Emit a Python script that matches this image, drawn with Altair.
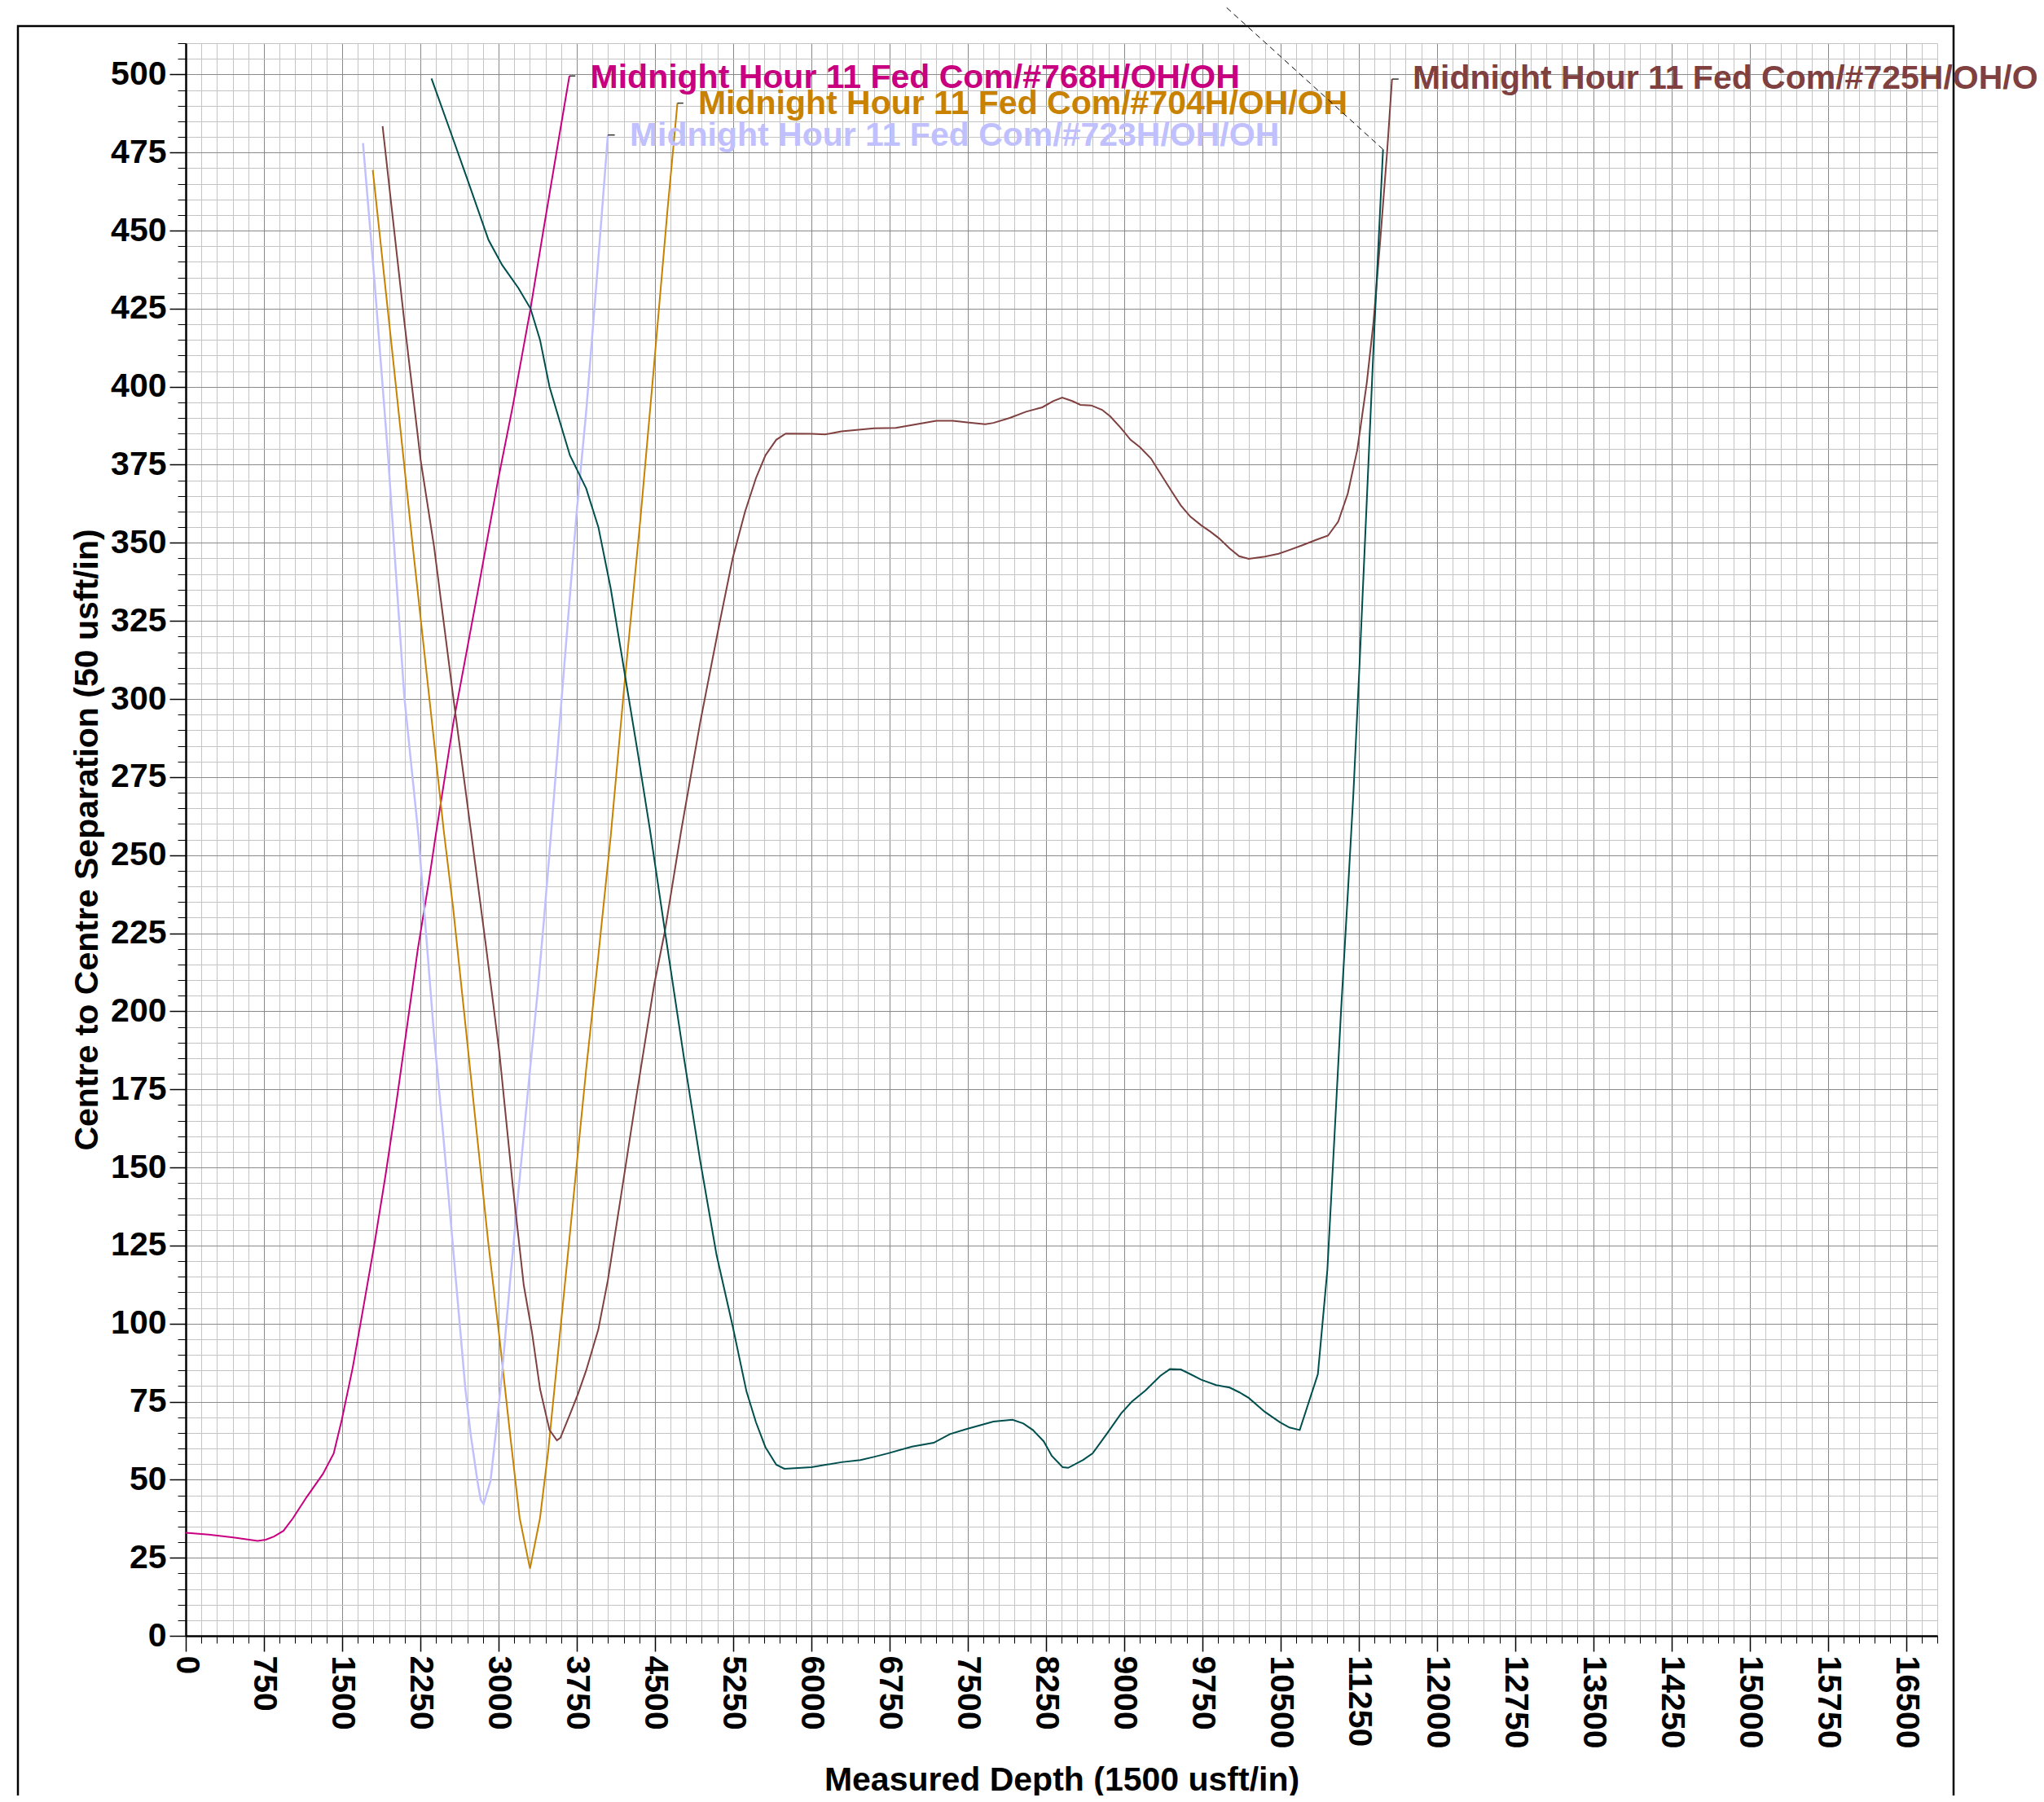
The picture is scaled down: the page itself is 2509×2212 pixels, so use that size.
import altair as alt
import pandas as pd

# ---------------- data ----------------
NAME_768 = "Midnight Hour 11 Fed Com/#768H/OH/OH"
NAME_704 = "Midnight Hour 11 Fed Com/#704H/OH/OH"
NAME_723 = "Midnight Hour 11 Fed Com/#723H/OH/OH"
NAME_725 = "Midnight Hour 11 Fed Com/#725H/OH/OH"
NAME_GRN = "Offset well (label off sheet)"

md_768 = [0, 195, 456, 690, 768, 846, 937, 1029, 1159, 1315, 1419, 1497, 1601, 1706, 1810,
          1914, 2018, 2122, 2226, 2331, 2396, 2565, 2799, 2995, 3138, 3307, 3425, 3581, 3680]
sep_768 = [33.0, 32.5, 31.5, 30.4, 30.8, 31.8, 33.6, 37.7, 44.4, 51.8, 58.4, 69.2, 85.8, 105.6, 125.5,
           147.0, 170.2, 195.0, 219.9, 241.4, 256.0, 292.0, 334.0, 370.0, 394.0, 425.0, 449.0, 480.0, 499.5]

md_723 = [1700, 1810, 1940, 2096, 2233, 2305, 2383, 2461, 2539, 2617, 2682, 2734, 2799, 2830, 2857,
          2924, 2982, 3034, 3112, 3190, 3294, 3372, 3437, 3503, 3607, 3750, 3841, 3945, 4049]
sep_723 = [478.0, 434.0, 378.0, 300.8, 256.0, 224.8, 191.7, 163.6, 133.8, 104.0, 79.1, 64.2, 49.3, 43.5, 42.2,
           49.7, 67.5, 84.1, 113.9, 142.0, 178.5, 205.0, 229.8, 256.5, 300.8, 360.0, 392.0, 435.6, 480.6]

md_704 = [1794, 1992, 2174, 2383, 2474, 2565, 2669, 2799, 2903, 3008, 3112, 3203, 3302, 3398, 3477,
          3581, 3685, 3763, 3841, 3958, 4076, 4206, 4362, 4492, 4622, 4716]
sep_704 = [469.4, 407.7, 350.0, 286.0, 258.0, 233.0, 200.0, 158.6, 125.5, 95.7, 64.2, 37.7, 21.5, 37.7, 59.3,
           94.0, 128.8, 155.3, 181.5, 218.0, 256.0, 304.0, 358.0, 407.0, 457.0, 490.8]

md_725 = [1888, 2096, 2253, 2383, 2565, 2734, 2877, 3008, 3138, 3242, 3320, 3398, 3489, 3560, 3594,
          3685, 3763, 3841, 3958, 4049, 4180, 4310, 4492, 4596, 4753, 4935, 5117, 5247, 5365, 5469,
          5560, 5664, 5755, 6003, 6133, 6289, 6601, 6810, 6966, 7200, 7356, 7513, 7669, 7747, 7904,
          8060, 8216, 8320, 8406, 8503, 8581, 8685, 8789, 8867, 8971, 9062, 9153, 9258, 9362, 9466,
          9544, 9635, 9740, 9831, 9909, 10013, 10104, 10195, 10351, 10482, 10586, 10716, 10846, 10956,
          11054, 11146, 11237, 11328, 11393, 11458, 11523, 11570]
sep_725 = [483.4, 421.0, 376.5, 348.5, 300.8, 258.0, 221.5, 186.8, 143.7, 112.3, 97.4, 79.1, 65.9, 62.6, 63.4,
           70.9, 77.5, 85.0, 98.2, 113.9, 142.0, 170.2, 208.3, 225.7, 258.0, 292.6, 323.8, 345.2, 360.0, 370.7,
           378.0, 383.0, 385.0, 384.9, 384.7, 385.7, 386.7, 386.8, 387.7, 389.1, 389.1, 388.5, 388.0, 388.4, 390.0,
           392.0, 393.4, 395.4, 396.5, 395.4, 394.2, 394.0, 392.6, 390.5, 386.7, 383.0, 380.6, 377.0, 371.5, 366.0,
           362.0, 358.4, 355.6, 353.5, 351.5, 348.2, 345.7, 344.9, 345.6, 346.5, 347.7, 349.3, 351.0, 352.3,
           356.8, 365.8, 379.8, 401.2, 420.9, 447.2, 475.2, 498.5]

md_grn = [2357, 2539, 2695, 2904, 3034, 3190, 3307, 3398, 3489, 3581, 3685, 3841, 3958, 4076, 4206,
          4336, 4453, 4596, 4779, 4935, 5091, 5247, 5378, 5469, 5560, 5664, 5742, 6003, 6289, 6471,
          6601, 6732, 6966, 7174, 7330, 7487, 7747, 7930, 8034, 8125, 8229, 8307, 8411, 8464, 8607,
          8698, 8841, 8971, 9075, 9206, 9349, 9440, 9544, 9635, 9740, 9883, 10013, 10104, 10195, 10351,
          10495, 10586, 10685, 10859, 10950, 11016, 11081, 11150, 11200, 11260, 11330, 11400, 11484]
sep_grn = [498.7, 481.7, 467.0, 447.0, 439.0, 431.6, 425.0, 415.0, 400.0, 389.6, 378.0, 367.4, 355.0, 335.4, 309.0,
           282.7, 258.0, 225.7, 185.0, 152.0, 122.0, 99.0, 78.3, 68.4, 60.4, 54.8, 53.5, 54.0, 55.6, 56.3,
           57.3, 58.4, 60.6, 61.8, 64.6, 66.2, 68.6, 69.2, 68.0, 65.9, 62.3, 57.6, 54.0, 53.8, 56.3,
           58.4, 65.0, 71.2, 75.0, 78.6, 83.3, 85.4, 85.3, 83.8, 82.0, 80.3, 79.5, 78.0, 76.2, 71.7,
           68.4, 66.7, 65.9, 83.8, 117.2, 158.6, 200.0, 240.0, 270.0, 312.0, 365.0, 418.0, 476.0]

series_names = [NAME_768, NAME_704, NAME_723, NAME_725, NAME_GRN]
series_colors = ["#C80080", "#C88200", "#C0C0FF", "#804040", "#004F4F"]
series_widths = [2.0, 2.0, 2.5, 2.0, 2.0]

# on-chart labels (text start and baseline, in data units)
label_names = [NAME_768, NAME_704, NAME_723, NAME_725]
label_x = [3880, 4914, 4258, 11767]
label_y = [495.6, 487.3, 477.1, 495.3]

# short dark leader ticks at the end of each labelled line
tick_x = [3680, 4716, 4049, 11570]
tick_x2 = [3737, 4773, 4115, 11633]
tick_y = [499.5, 490.8, 480.6, 498.5]

# dashed leader for the label that lies above the sheet
leader_x = [11484, 9907]
leader_y = [476.0, 523.7]

# axes
x_minor = list(range(0, 16801, 150))
x_major = list(range(0, 16501, 750))
y_minor = list(range(0, 511, 5))
y_major = list(range(0, 501, 25))

# ---------------- tables ----------------
rows = []
for name, xs_, ys_ in [(NAME_768, md_768, sep_768), (NAME_704, md_704, sep_704),
                       (NAME_723, md_723, sep_723), (NAME_725, md_725, sep_725),
                       (NAME_GRN, md_grn, sep_grn)]:
    for i, (a, b) in enumerate(zip(xs_, ys_)):
        rows.append({"series": name, "md": a, "sep": b, "idx": i})
lines_df = pd.DataFrame(rows)
labels_df = pd.DataFrame({"series": label_names, "md": label_x, "sep": label_y})
ticks_df = pd.DataFrame({"md": tick_x, "md2": tick_x2, "sep": tick_y})
leader_df = pd.DataFrame({"md": leader_x, "sep": leader_y, "idx": [0, 1]})

FONT = "Liberation Sans"
W, H = 2150, 1955

xs = alt.Scale(domain=[0, 16800], nice=False, zero=False)
ys = alt.Scale(domain=[0, 510], nice=False, zero=False)
cs = alt.Scale(domain=series_names, range=series_colors)

x_minor_axis = alt.Axis(values=x_minor, orient="bottom", grid=True, gridColor="#c4c4c4", gridWidth=1,
                        ticks=True, tickSize=9, tickColor="black", tickWidth=1,
                        labels=False, domain=False, title=None)
y_minor_axis = alt.Axis(values=y_minor, orient="left", grid=True, gridColor="#c4c4c4", gridWidth=1,
                        ticks=True, tickSize=10, tickColor="black", tickWidth=1,
                        labels=False, domain=False, title=None)

x_major_axis = alt.Axis(values=x_major, orient="bottom", grid=True, gridColor="#8a8a8a", gridWidth=1,
                        ticks=True, tickSize=19, tickColor="black", tickWidth=1.5,
                        domain=True, domainColor="black", domainWidth=2.5,
                        labels=True, labelAngle=90, labelFont=FONT, labelFontSize=41,
                        labelFontWeight="bold", labelColor="black", labelPadding=5,
                        labelOverlap=False, labelFlush=False, format="d",
                        title="Measured Depth (1500 usft/in)", titleFont=FONT, titleFontSize=41,
                        titleFontWeight="bold", titleColor="black", titleX=1075, titleY=189,
                        titleAlign="center", titleBaseline="alphabetic", titleAngle=0)
y_major_axis = alt.Axis(values=y_major, orient="left", grid=True, gridColor="#8a8a8a", gridWidth=1,
                        ticks=True, tickSize=20, tickColor="black", tickWidth=1.5,
                        domain=True, domainColor="black", domainWidth=2.5,
                        labels=True, labelFont=FONT, labelFontSize=41, labelFontWeight="bold",
                        labelColor="black", labelPadding=4, labelOverlap=False, labelFlush=False,
                        format="d",
                        title="Centre to Centre Separation (50 usft/in)", titleFont=FONT,
                        titleFontSize=41, titleFontWeight="bold", titleColor="black",
                        titleX=-121, titleY=H / 2, titleAngle=270, titleAlign="center",
                        titleBaseline="middle")

frame = alt.Chart(pd.DataFrame({"a": [0]})).mark_rect(
    fillOpacity=0, stroke="black", strokeWidth=2.5
).encode(x=alt.value(-206), x2=alt.value(2170), y=alt.value(-21), y2=alt.value(2300))

layers = []
for name, col, wd in zip(series_names, series_colors, series_widths):
    sub = lines_df[lines_df["series"] == name]
    layers.append(
        alt.Chart(sub).mark_line(color=col, strokeWidth=wd).encode(
            x=alt.X("md:Q", scale=xs, axis=x_minor_axis if name == NAME_768 else None),
            y=alt.Y("sep:Q", scale=ys, axis=y_minor_axis if name == NAME_768 else None),
            order="idx:Q",
        )
    )

labels = alt.Chart(labels_df).mark_text(
    align="left", baseline="alphabetic", font=FONT, fontSize=41, fontWeight="bold"
).encode(
    x=alt.X("md:Q", scale=xs, axis=x_major_axis),
    y=alt.Y("sep:Q", scale=ys, axis=y_major_axis),
    text="series:N",
    color=alt.Color("series:N", scale=cs, legend=None),
)

ticks = alt.Chart(ticks_df).mark_rule(color="#333333", strokeWidth=1.5).encode(
    x=alt.X("md:Q", scale=xs, axis=None),
    x2="md2:Q",
    y=alt.Y("sep:Q", scale=ys, axis=None),
)

leader = alt.Chart(leader_df).mark_line(color="black", strokeWidth=1, strokeDash=[7, 5]).encode(
    x=alt.X("md:Q", scale=xs, axis=None),
    y=alt.Y("sep:Q", scale=ys, axis=None),
    order="idx:Q",
)

chart = alt.layer(frame, *layers, labels, ticks, leader).resolve_axis(
    x="independent", y="independent"
).properties(
    width=W, height=H,
    autosize=alt.AutoSizeParams(type="none"),
    padding={"left": 220, "top": 45, "right": 123, "bottom": 196},
    background="white",
).configure_view(strokeWidth=0)

chart.save("out.html", embed_options={"renderer": "svg", "actions": False})
